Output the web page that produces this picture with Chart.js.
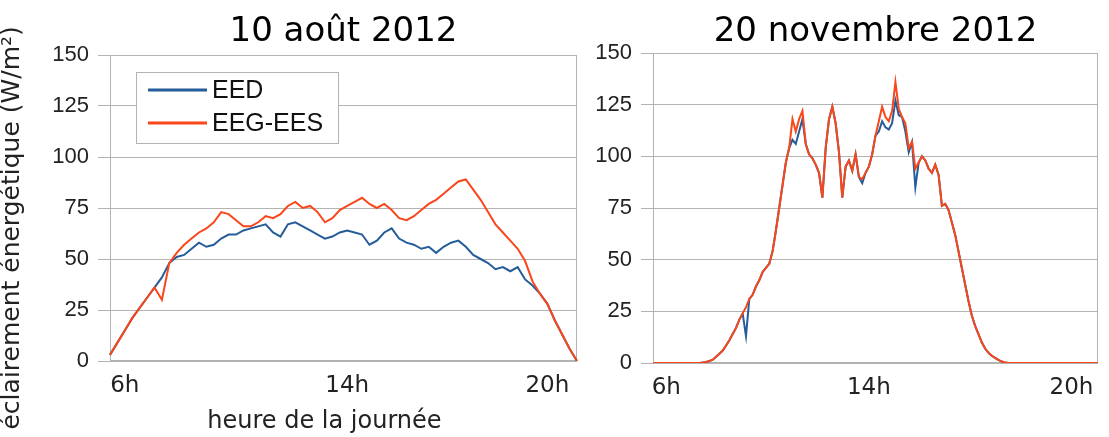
<!DOCTYPE html>
<html lang="fr">
<head>
<meta charset="utf-8">
<title>Éclairement énergétique</title>
<script src="https://cdn.jsdelivr.net/npm/chart.js@4.4.1/dist/chart.umd.min.js"></script>
<style>
    body { margin: 0; background: #fff; }
    .panel { position: absolute; top: 0; height: 437px; }
    #panelAout { left: 0; width: 590px; }
    #panelNov { left: 590px; width: 519px; }
</style>
</head>
<body>
<div class="panel" id="panelAout"><canvas id="chartAout"></canvas></div>
<div class="panel" id="panelNov"><canvas id="chartNov"></canvas></div>
<script>
// Etiquettes de l'axe des heures et leur position (indice de l'echantillon)
const heures = ['6h', '14h', '20h'];
const heuresIdxAout = [2, 32, 59];
const heuresIdxNov = [4, 65, 126];

// 10 août 2012 (W/m²)
const eedAout = [3, 9, 15, 21, 26, 31, 36, 41, 48, 51, 52, 55, 58, 56, 57, 60, 62, 62, 64, 65, 66, 67, 63, 61, 67, 68, 66, 64, 62, 60, 61, 63,
    64, 63, 62, 57, 59, 63, 65, 60, 58, 57, 55, 56, 53, 56, 58, 59, 56, 52, 50, 48, 45, 46, 44, 46, 40, 37, 33, 28, 20, 13, 6, 0];
const eegAout = [3, 9, 15, 21, 26, 31, 36, 30, 48, 53, 57, 60, 63, 65, 68, 73, 72, 69, 66, 66, 68, 71, 70, 72, 76, 78, 75, 76, 73, 68, 70, 74,
    76, 78, 80, 77, 75, 77, 74, 70, 69, 71, 74, 77, 79, 82, 85, 88, 89, 84, 79, 73, 67, 63, 59, 55, 49, 39, 33, 28, 20, 13, 6, 0];

// 20 novembre 2012 (W/m²)
const eedNov = [0, 0, 0, 0, 0, 0, 0, 0, 0, 0, 0, 0, 0, 0, 0,
    0.2, 0.5, 1, 1.6, 3, 4.5, 6, 8.5, 11, 14,
    17, 21, 24, 13, 31, 33, 37, 40, 44, 46,
    48, 54, 64, 75, 86, 97, 104, 108, 106, 112,
    118, 106, 101, 99, 96, 92, 80, 104, 118, 124,
    116, 102, 80, 95, 98, 93, 101, 90, 87, 92,
    95, 101, 110, 112, 117, 114, 113, 116, 127, 120,
    119, 112, 102, 107, 85, 97, 100, 98, 94, 92,
    96, 91, 76, 77, 74, 68, 62, 54, 46, 38,
    30, 23, 18, 14, 10, 7, 5, 3.5, 2.5, 1.5, 0.7, 0.3,
    0, 0, 0, 0, 0, 0, 0, 0, 0, 0, 0, 0, 0, 0, 0, 0, 0, 0, 0, 0, 0, 0, 0, 0, 0, 0, 0, 0];
const eegNov = [0, 0, 0, 0, 0, 0, 0, 0, 0, 0, 0, 0, 0, 0, 0,
    0.2, 0.5, 1, 1.6, 3, 4.5, 6, 8.5, 11, 14,
    17, 21, 24, 27, 31, 33, 37, 40, 44, 46,
    48, 54, 64, 75, 86, 97, 104, 118, 112, 118,
    122, 106, 101, 99, 96, 92, 80, 104, 118, 124,
    116, 102, 80, 95, 98, 93, 101, 90, 89, 92,
    95, 101, 110, 117, 124, 119, 117, 122, 136, 123,
    119, 116, 104, 107, 94, 97, 100, 98, 94, 92,
    96, 91, 76, 77, 74, 68, 62, 54, 46, 38,
    30, 23, 18, 14, 10, 7, 5, 3.5, 2.5, 1.5, 0.7, 0.3,
    0, 0, 0, 0, 0, 0, 0, 0, 0, 0, 0, 0, 0, 0, 0, 0, 0, 0, 0, 0, 0, 0, 0, 0, 0, 0, 0, 0];

const BLEU = '#245d9a';
const ORANGE = '#f9461a';
const GRIS = '#b3b3b3';

// Categories : vides sauf aux heures affichees
const categories = (n, idx) => Array.from({ length: n }, (_, i) => {
    const k = idx.indexOf(i);
    return k >= 0 ? heures[k] : '';
});

// Cadre gris autour de la zone de tracé
const cadre = {
    id: 'cadre',
    beforeDatasetsDraw(chart) {
        const { ctx, chartArea: a } = chart;
        ctx.save();
        ctx.strokeStyle = GRIS;
        ctx.lineWidth = 1;
        ctx.strokeRect(Math.round(a.left) + 0.5, Math.round(a.top) + 0.5,
            Math.round(a.width) - 1, Math.round(a.height) - 1);
        ctx.restore();
    }
};

// Légende encadrée dans la zone de tracé
const legende = {
    id: 'legende',
    afterDraw(chart, args, opts) {
        if (!opts.display) return;
        const { ctx, chartArea: a } = chart;
        const x = Math.round(a.left) + 26, y = Math.round(a.top) + 17, w = 202, h = 71;
        ctx.save();
        ctx.fillStyle = '#fff';
        ctx.fillRect(x, y, w, h);
        ctx.strokeStyle = GRIS;
        ctx.lineWidth = 1;
        ctx.strokeRect(x + 0.5, y + 0.5, w, h);
        ctx.font = '25px "Liberation Sans"';
        ctx.textBaseline = 'middle';
        chart.data.datasets.forEach((ds, i) => {
            const ly = y + 18 + i * 33;
            ctx.strokeStyle = ds.borderColor;
            ctx.lineWidth = 3;
            ctx.beginPath();
            ctx.moveTo(x + 12, ly);
            ctx.lineTo(x + 71, ly);
            ctx.stroke();
            ctx.fillStyle = '#111';
            ctx.fillText(ds.label, x + 76, ly + 1);
        });
        ctx.restore();
    }
};

function creerGraphique(id, titre, idx, eed, eeg, opt) {
    return new Chart(document.getElementById(id), {
        type: 'line',
        data: {
            labels: categories(eed.length, idx),
            datasets: [
                { label: 'EED', data: eed, borderColor: BLEU, order: 2 },
                { label: 'EEG-EES', data: eeg, borderColor: ORANGE, order: 1 }
            ]
        },
        options: {
            responsive: true,
            maintainAspectRatio: false,
            animation: false,
            layout: { padding: { right: opt.padRight } },
            elements: {
                point: { radius: 0 },
                line: { borderWidth: 2, tension: 0 }
            },
            plugins: {
                legend: { display: false },
                tooltip: { enabled: false },
                title: {
                    display: true,
                    text: titre,
                    fullSize: false,
                    color: '#000',
                    font: { family: 'DejaVu Sans', size: 34, weight: 'normal', lineHeight: 1 },
                    padding: { top: 15, bottom: opt.titleBottom }
                },
                legende: { display: opt.legende }
            },
            scales: {
                x: {
                    grid: { display: false, drawTicks: false },
                    border: { display: false },
                    ticks: {
                        autoSkip: false,
                        maxRotation: 0,
                        minRotation: 0,
                        padding: 11,
                        color: '#222',
                        font: { family: 'DejaVu Sans', size: 23 }
                    },
                    title: {
                        display: opt.xTitre,
                        // espaces finaux : decale le titre vers la gauche comme l'original
                        text: 'heure de la journée     ',
                        color: '#222',
                        font: { family: 'DejaVu Sans', size: 24 },
                        padding: { top: 0, bottom: 1 }
                    },
                    afterFit: s => { s.height = opt.xHeight; }
                },
                y: {
                    min: 0,
                    max: 150,
                    grid: { color: GRIS, tickColor: GRIS, tickLength: 12 },
                    border: { display: false },
                    ticks: {
                        stepSize: 25,
                        padding: 9,
                        color: '#222',
                        font: { family: 'Liberation Sans', size: 22 }
                    },
                    title: {
                        display: opt.yTitre,
                        text: 'éclairement énergétique (W/m²)     ',
                        color: '#222',
                        font: { family: 'DejaVu Sans', size: 25, lineHeight: 1 },
                        padding: 0
                    },
                    afterFit: s => { s.width = opt.yWidth; }
                }
            }
        },
        plugins: [cadre, legende]
    });
}

creerGraphique('chartAout', '10 août 2012', heuresIdxAout, eedAout, eegAout,
    { padRight: 13, titleBottom: 6, xHeight: 76, yWidth: 110, xTitre: true, yTitre: true, legende: true });
creerGraphique('chartNov', '20 novembre 2012', heuresIdxNov, eedNov, eegNov,
    { padRight: 7, titleBottom: 4, xHeight: 74, yWidth: 63, xTitre: false, yTitre: false, legende: false });
</script>
</body>
</html>
